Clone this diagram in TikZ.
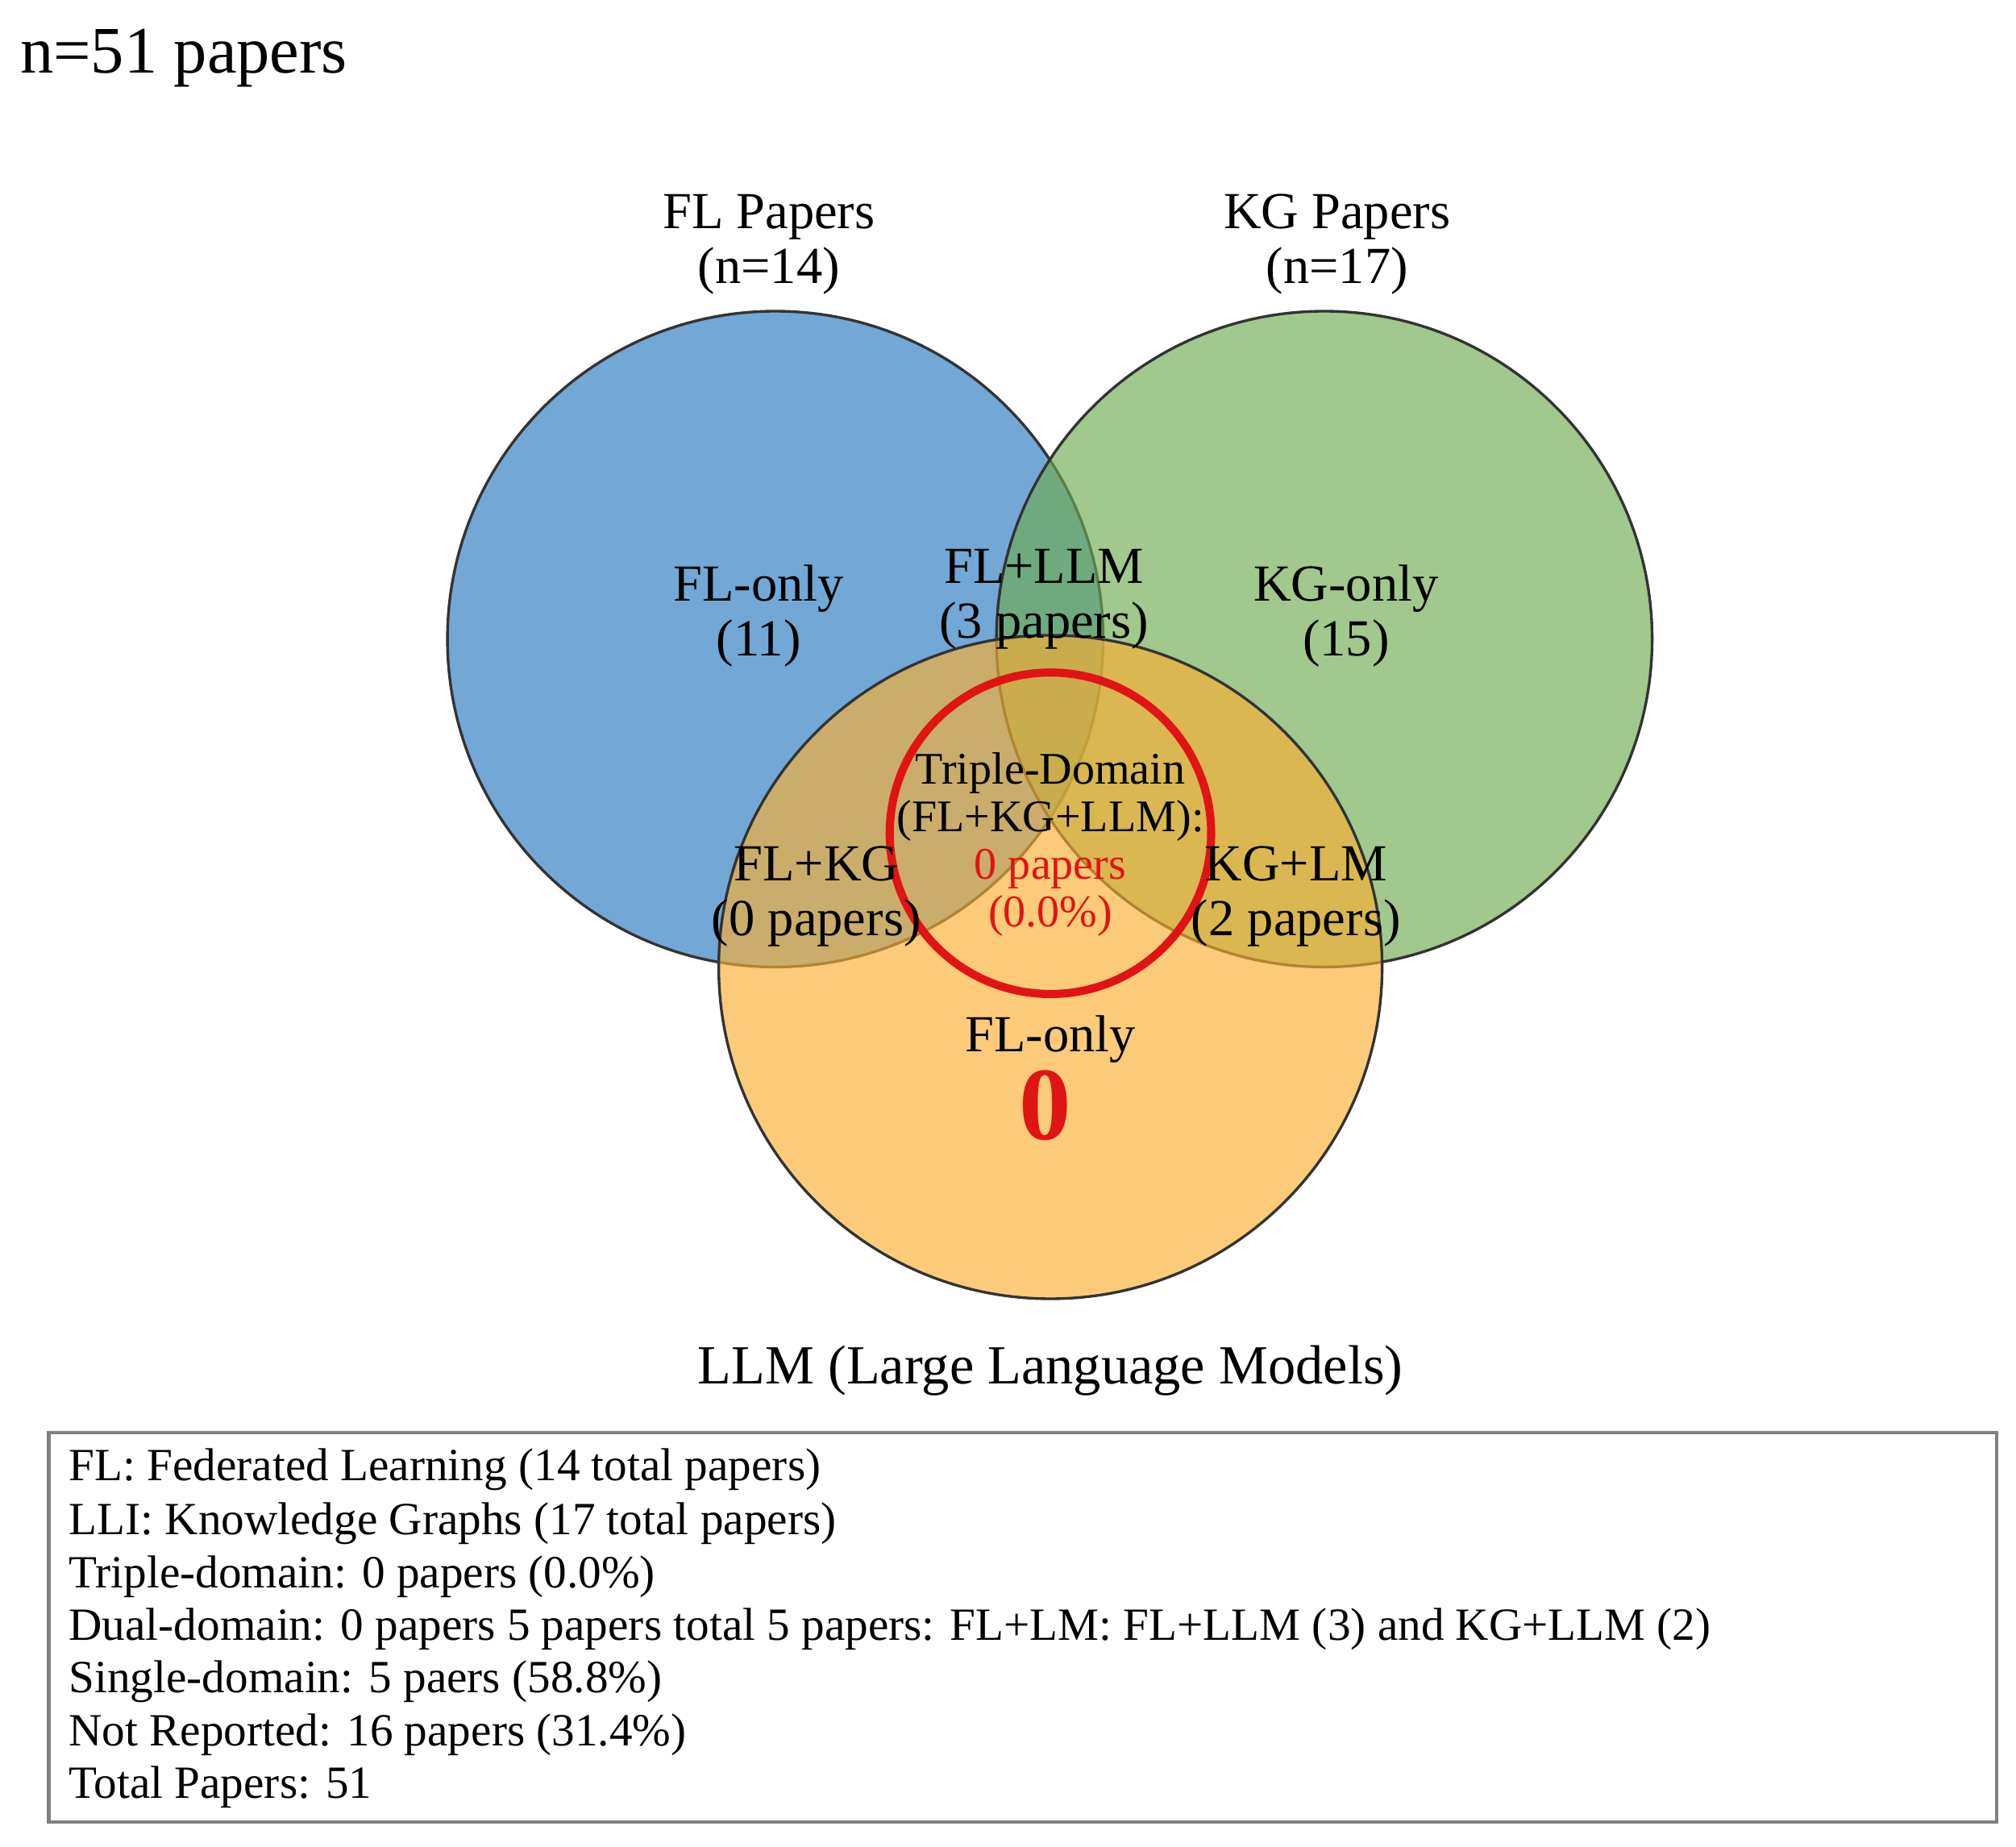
\documentclass[tikz,border=0pt]{standalone}
\usepackage{fontspec}
\setmainfont{Liberation Serif}
\definecolor{flc}{RGB}{40,120,190}
\definecolor{kgc}{RGB}{110,170,80}
\definecolor{llc}{RGB}{250,175,50}
\definecolor{redc}{RGB}{225,20,20}
\begin{document}
\begin{tikzpicture}[x=0.01cm,y=-0.01cm,
  lbl/.style={font=\fontsize{11.5}{12.2}\selectfont,align=center,inner sep=0pt},
  leg/.style={font=\fontsize{10.2}{12}\selectfont,anchor=west,inner sep=0pt},
  venn/.style={draw=black!80,line width=0.6pt,fill opacity=0.65}]
\useasboundingbox (0,0) rectangle (1568,1436);
\node[anchor=west,inner sep=0pt,font=\fontsize{14.7}{18}\selectfont] (title) at (15,45) {n=51 papers};
\draw[venn,fill=flc] (603,497) circle (255);
\draw[venn,fill=kgc] (1030,497) circle (255);
\draw[venn,fill=llc] (817,752) circle (258);
\draw[redc,line width=1.8pt] (817,648) circle (125);
\node[lbl] (flt) at (598,190) {FL Papers\\(n=14)};
\node[lbl] (kgt) at (1040,190) {KG Papers\\(n=17)};
\node[lbl] (flo) at (590,479) {FL-only\\(11)};
\node[lbl] (fllm) at (812,466) {FL+LLM\\(3 papers)};
\node[lbl] (kgo) at (1047,479) {KG-only\\(15)};
\node[lbl,font=\fontsize{10}{10.5}\selectfont] (tri) at (817,620) {Triple-Domain\\(FL+KG+LLM):};
\node[lbl,text=redc,font=\fontsize{10}{10.5}\selectfont] (trin) at (817,694) {0 papers\\(0.0\%)};
\node[lbl] (flkg) at (635,697) {FL+KG\\(0 papers)};
\node[lbl] (kglm) at (1008,697) {KG+LM\\(2 papers)};
\node[lbl] (llo) at (817,808) {FL-only};
\node[lbl,text=redc,font=\bfseries\fontsize{23}{25}\selectfont] (zero) at (813,860) {0};
\node[lbl,font=\fontsize{12.2}{15}\selectfont] (llt) at (817,1066) {LLM (Large Language Models)};
\draw[black!50,line width=0.8pt] (38,1114) rectangle (1553,1417);
\node[leg] (l1) at (53,1143) {FL: Federated Learning (14 total papers)};
\node[leg] (l2) at (53,1185) {LLI: Knowledge Graphs (17 total papers)};
\node[leg] (l3) at (53,1226) {Triple-domain: 0 papers (0.0\%)};
\node[leg] (l4) at (53,1267) {Dual-domain: 0 papers 5 papers total 5 papers: FL+LM: FL+LLM (3) and KG+LLM (2)};
\node[leg] (l5) at (53,1308) {Single-domain: 5 paers (58.8\%)};
\node[leg] (l6) at (53,1349) {Not Reported: 16 papers (31.4\%)};
\node[leg] (l7) at (53,1390) {Total Papers: 51};
\end{tikzpicture}
\end{document}
